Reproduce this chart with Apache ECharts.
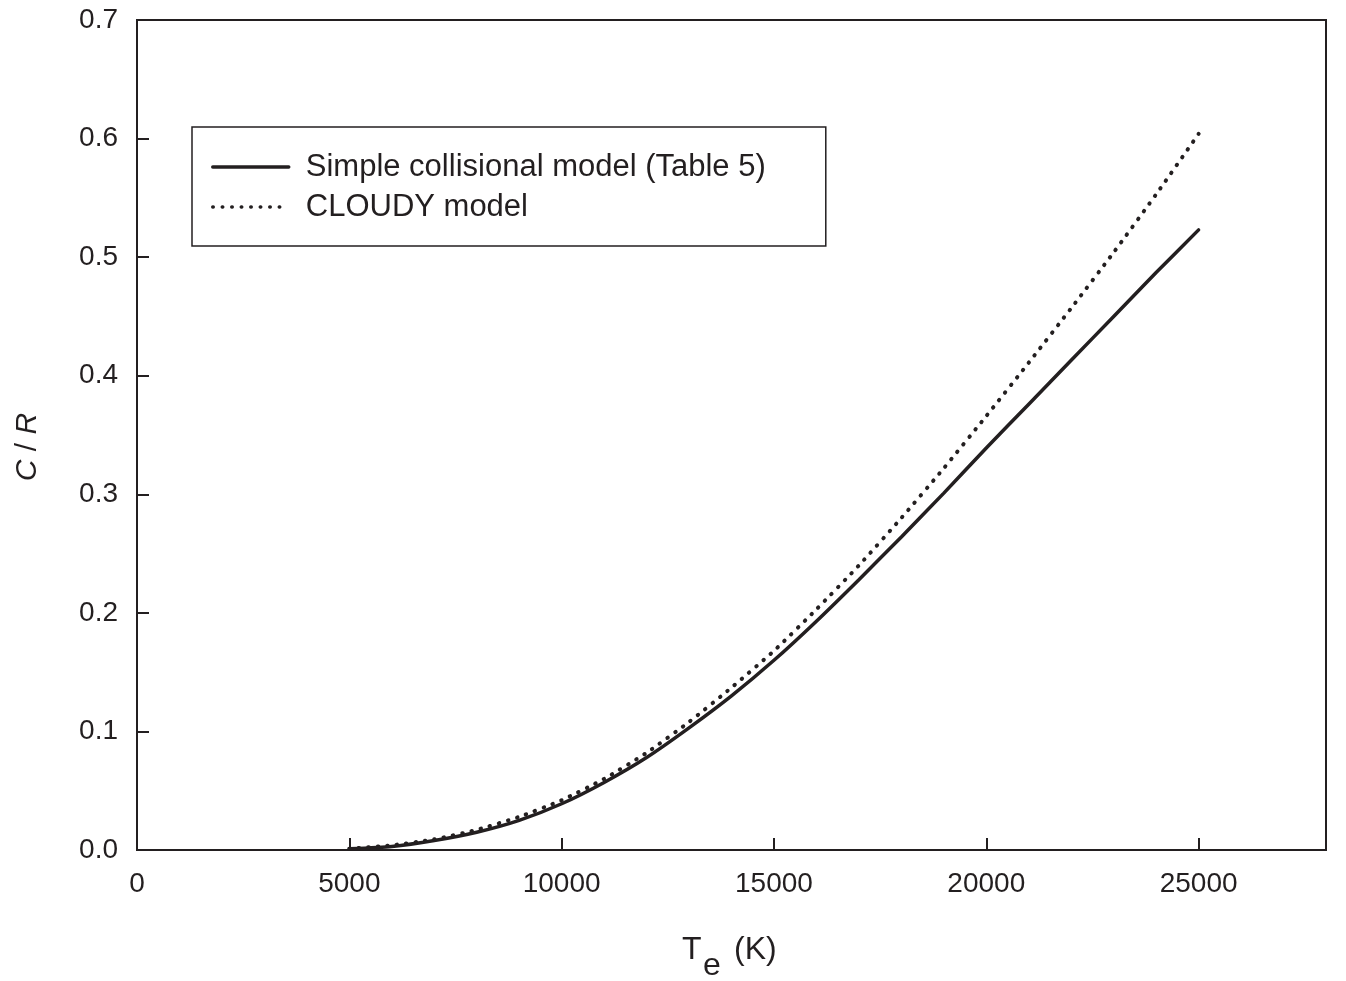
<!DOCTYPE html>
<html>
<head>
<meta charset="utf-8">
<script src="https://cdn.jsdelivr.net/npm/echarts@6/dist/echarts.min.js"></script>
<style>
html,body{margin:0;padding:0;background:#fff;}
#chart{width:1346px;height:981px;}
</style>
</head>
<body>
<div id="chart"></div>
<script>
const temps = [5000,6000,7000,8000,9000,10000,11000,12000,13000,14000,15000,16000,17000,18000,19000,20000,21000,22000,23000,24000,25000];
const simpleModel = [0.001,0.003,0.008,0.015,0.025,0.039,0.057,0.078,0.103,0.130,0.160,0.193,0.228,0.264,0.301,0.339,0.376,0.413,0.450,0.487,0.523];
const cloudyModel = [0.001,0.004,0.009,0.017,0.028,0.042,0.060,0.082,0.108,0.137,0.168,0.203,0.240,0.280,0.322,0.366,0.411,0.457,0.504,0.553,0.604];
const seriesNames = ['Simple collisional model (Table 5)', 'CLOUDY model'];
const xTicks = [0, 5000, 10000, 15000, 20000, 25000];

const ink = '#231f20';
const font = 'Liberation Sans, Arial, sans-serif';
const chart = echarts.init(document.getElementById('chart'), null, {renderer:'canvas'});
const pair = (xs, ys) => xs.map((x, i) => [x, ys[i]]);

chart.setOption({
  animation: false,
  backgroundColor: '#fff',
  grid: {left: 137, right: 20, top: 20, bottom: 131, show: true, borderColor: ink, borderWidth: 2, containLabel: false},
  xAxis: {
    type: 'value', min: 0, max: 28000, interval: 5000,
    axisLine: {show: true, lineStyle: {color: ink, width: 2}},
    axisTick: {show: true, inside: true, length: 12, lineStyle: {color: ink, width: 2}},
    splitLine: {show: false},
    axisLabel: {color: ink, fontSize: 28, fontFamily: font, margin: 20,
      formatter: v => xTicks.indexOf(v) >= 0 ? String(v) : ''}
  },
  yAxis: {
    type: 'value', min: 0, max: 0.7, interval: 0.1,
    axisLine: {show: true, lineStyle: {color: ink, width: 2}},
    axisTick: {show: true, inside: true, length: 12, lineStyle: {color: ink, width: 2}},
    splitLine: {show: false},
    axisLabel: {color: ink, fontSize: 28, fontFamily: font, margin: 19,
      formatter: v => v.toFixed(1)}
  },
  legend: {
    left: 192, top: 127, orient: 'vertical',
    padding: [23, 60, 22, 19], itemGap: 6,
    itemWidth: 76, itemHeight: 14,
    borderColor: ink, borderWidth: 1.5, backgroundColor: '#fff',
    itemStyle: {opacity: 0},
    textStyle: {color: ink, fontSize: 31, fontFamily: font, lineHeight: 34, padding: [0,0,0,12]},
    data: [
      {name: seriesNames[0], itemStyle: {opacity: 0}, lineStyle: {width: 3.5, color: ink}},
      {name: seriesNames[1], itemStyle: {opacity: 0}, lineStyle: {width: 3.5, color: ink}}
    ]
  },
  graphic: [
    {type: 'text', id: 'ytitle', x: 28, y: 447, rotation: Math.PI/2,
     style: {text: '{i|C} / {i|R}', fill: ink, font: '30px ' + font, align: 'center', verticalAlign: 'middle',
       rich: {i: {fontStyle: 'italic', fontSize: 30, fontFamily: font, fill: ink}}}},
    {type: 'text', id: 'xT', x: 682, y: 950, style: {text: 'T', fill: ink, font: '32px ' + font, align: 'left', verticalAlign: 'middle'}},
    {type: 'text', id: 'xe', x: 703, y: 966, style: {text: 'e', fill: ink, font: '32px ' + font, align: 'left', verticalAlign: 'middle'}},
    {type: 'text', id: 'xK', x: 734, y: 950, style: {text: '(K)', fill: ink, font: '32px ' + font, align: 'left', verticalAlign: 'middle'}}
  ],
  series: [
    {name: seriesNames[0], type: 'line', data: pair(temps, simpleModel), smooth: 0.2, symbol: 'none',
     lineStyle: {color: ink, width: 3.5, cap: 'round'}, itemStyle: {color: ink}},
    {name: seriesNames[1], type: 'line', data: pair(temps, cloudyModel), smooth: 0.2, symbol: 'none',
     lineStyle: {color: ink, width: 4, type: [0.5, 9], cap: 'round'}, itemStyle: {color: ink}}
  ]
});
</script>
</body>
</html>
